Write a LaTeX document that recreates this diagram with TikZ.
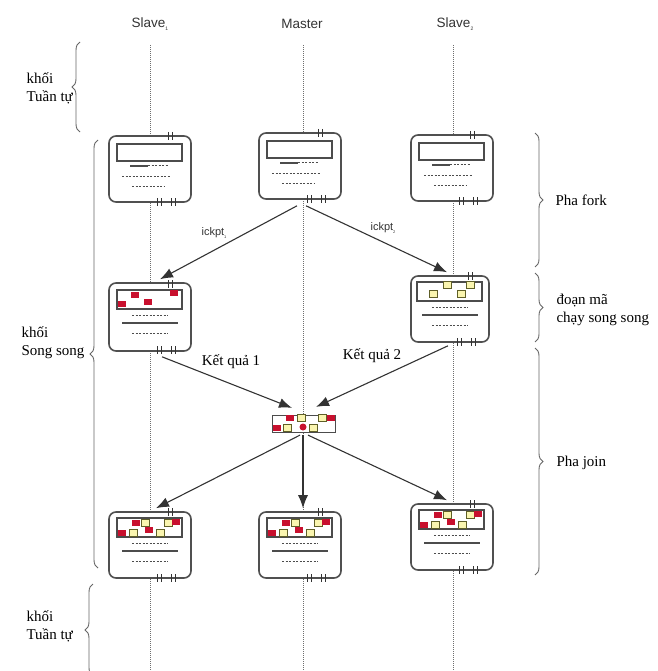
\documentclass[tikz,border=0pt]{standalone}
\usepackage{fontspec}
\setmainfont{Liberation Serif}
\setsansfont{Liberation Sans}
\usetikzlibrary{calc,decorations.pathreplacing,arrows.meta}
\definecolor{myred}{RGB}{200,16,46}
\definecolor{myyel}{RGB}{250,245,175}
\definecolor{myolive}{RGB}{95,95,40}
\definecolor{boxgray}{RGB}{80,80,80}
\definecolor{lanegray}{RGB}{110,110,110}
\newcommand{\redsq}[2]{\fill[myred] (#1-4,#2-3.2) rectangle (#1+4,#2+3.2);}
\newcommand{\yelsq}[2]{\filldraw[fill=myyel,draw=myolive,line width=0.9pt] (#1-4,#2-3.2) rectangle (#1+4,#2+3.2);}
\newcommand{\tickpair}[2]{\draw[line width=0.9pt,black!80] (#1,#2-4) -- (#1,#2+4) (#1+4,#2-4) -- (#1+4,#2+4);}
\newcommand{\topstuff}{%
  \draw[line width=1.3pt,draw=black!70] (-33,-25) rectangle (32,-8);
  \draw[line width=1.1pt,black!70] (-20,-3) -- (-2,-3);
  \draw[dsh] (-2,-3) -- (18,-3);
  \draw[dsh] (-28,7) -- (20,7);
  \draw[dsh] (-18,17) -- (15,17);
  \tickpair{18}{-33}
  \tickpair{7}{33}\tickpair{21}{33}}
\newcommand{\midstuff}{%
  \draw[line width=1.3pt,draw=black!70] (-33,-27) rectangle (32,-8);
  \draw[dsh] (-18,-2) -- (18,-2);
  \draw[line width=1.1pt,black!70] (-28,6) -- (28,6);
  \draw[dsh] (-18,16) -- (18,16);
  \tickpair{18}{-33}
  \tickpair{7}{33}\tickpair{21}{33}}
\newcommand{\mixsq}{%
  \redsq{-14}{-22}\yelsq{-5}{-22}\yelsq{18}{-22}\redsq{26}{-23}
  \redsq{-28}{-12}\yelsq{-17}{-12}\redsq{-1}{-15}\yelsq{10}{-12}}
\begin{document}
\begin{tikzpicture}[x=1pt,y=-1pt,
  box/.style={draw=boxgray,line width=1.6pt,rounded corners=7pt,fill=white,
    minimum width=82pt,minimum height=66pt,inner sep=0pt},
  lane/.style={densely dotted,line width=1pt,draw=lanegray},
  arr/.style={draw=black!80,line width=1.1pt,-{Latex[length=13pt,width=10pt]}},
  brc/.style={decorate,decoration={brace,amplitude=8pt},draw=black!60,line width=0.9pt},
  dsh/.style={dash pattern=on 2.2pt off 1.3pt,line width=1pt,black!70},
  hdr/.style={font=\sffamily\fontsize{13.5}{15}\selectfont,text=black!80},
  lbl/.style={font=\fontsize{15}{18}\selectfont,align=left,anchor=west,text=black},
  klbl/.style={font=\fontsize{15}{17}\selectfont,text=black},
  ilbl/.style={font=\sffamily\fontsize{11}{13}\selectfont,text=black!80}]
\useasboundingbox (0,0) rectangle (657,671);
\clip (0,0) rectangle (657,671);

% headers
\node[hdr] (h1) at (150,24) {Slave\raisebox{-3pt}{\fontsize{5}{6}\selectfont 1}};
\node[hdr] (hm) at (302,24) {Master};
\node[hdr] (h2) at (455,24) {Slave\raisebox{-3pt}{\fontsize{5}{6}\selectfont 2}};

% lane ends
\coordinate (t1) at (150,45); \coordinate (e1) at (150,675);
\coordinate (tm) at (303,45); \coordinate (em) at (303,675);
\coordinate (t2) at (453,45); \coordinate (e2) at (453,675);
\draw[lane] (t1) -- (e1);
\draw[lane] (tm) -- (em);
\draw[lane] (t2) -- (e2);

% braces left
\draw[brc] (80,132) -- (80,42);
\draw[brc] (98,568) -- (98,140);
\draw[brc] (93,676) -- (93,584);
% braces right
\draw[brc] (535,133) -- (535,267);
\draw[brc] (535,273) -- (535,342);
\draw[brc] (535,348) -- (535,575);

\node[lbl] (lt1) at (23,88) {khối\\Tuần tự};
\node[lbl] (ls) at (18,343) {khối\\Song song};
\node[lbl] (lt2) at (23,626) {khối\\Tuần tự};
\node[lbl] (rf) at (552,200) {Pha fork};
\node[lbl] (rp) at (553,310) {đoạn mã\\chạy song song};
\node[lbl] (rj) at (553,463) {Pha join};

% top row
\node[box] (s1a) at (150,169) {};
\node[box] (ma) at (300,166) {};
\node[box] (s2a) at (452,168) {};
\begin{scope}[shift={(150,169)}]\topstuff\end{scope}
\begin{scope}[shift={(300,166)}]\topstuff\end{scope}
\begin{scope}[shift={(452,168)}]\topstuff\end{scope}

% middle row
\node[box,minimum height=68pt] (s1b) at (150,317) {};
\node[box,minimum width=78pt] (s2b) at (450,309) {};
\begin{scope}[shift={(150,317)}]\midstuff
  \redsq{-15}{-22}\redsq{24}{-24}\redsq{-28}{-13}\redsq{-2}{-15}\end{scope}
\begin{scope}[shift={(450,309)}]\midstuff
  \yelsq{-3}{-24}\yelsq{20}{-24}\yelsq{-17}{-15}\yelsq{11}{-15}\end{scope}

% merge
\node[draw=black!70,line width=1.2pt,fill=white,minimum width=63pt,minimum height=17pt,inner sep=0pt] (mg) at (304,424) {};
\begin{scope}[shift={(304,424)}]
  \redsq{-14}{-6}\yelsq{-3}{-6}\yelsq{18}{-6}\redsq{27}{-6}
  \redsq{-27}{4}\yelsq{-17}{4}\fill[myred] (-1,3) circle (3.5);\yelsq{9}{4}
\end{scope}

% bottom row
\node[box] (s1c) at (150,545) {};
\node[box] (mc) at (300,545) {};
\node[box] (s2c) at (452,537) {};
\begin{scope}[shift={(150,545)}]\midstuff\mixsq\end{scope}
\begin{scope}[shift={(300,545)}]\midstuff\mixsq\end{scope}
\begin{scope}[shift={(452,537)}]\midstuff\mixsq\end{scope}

% arrows
\draw[arr] ($(ma.south)+(-3,6)$) -- ($(s1b.north)+(10,-3)$);
\draw[arr] ($(ma.south)+(6,6)$) -- ($(s2b.north)+(-3,-3)$);
\draw[arr] ($(s1b.south)+(12,5)$) -- ($(mg.north)+(-12,-7)$);
\draw[arr] ($(s2b.south)+(-2,3)$) -- ($(mg.north)+(12,-8)$);
\draw[arr] ($(mg.south)+(-4,2)$) -- ($(s1c.north)+(6,-3)$);
\draw[arr] ($(mg.south)+(-1,2)$) -- ($(mc.north)+(3,-3)$);
\draw[arr] ($(mg.south)+(4,2)$) -- ($(s2c.north)+(-5,-3)$);

\node[ilbl] (i1) at (214,233) {ickpt\raisebox{-3pt}{\fontsize{4}{5}\selectfont 1}};
\node[ilbl] (i2) at (383,228) {ickpt\raisebox{-3pt}{\fontsize{4}{5}\selectfont 2}};
\node[klbl] (k1) at (231,362) {Kết quả 1};
\node[klbl] (k2) at (372,356) {Kết quả 2};
\end{tikzpicture}
\end{document}
